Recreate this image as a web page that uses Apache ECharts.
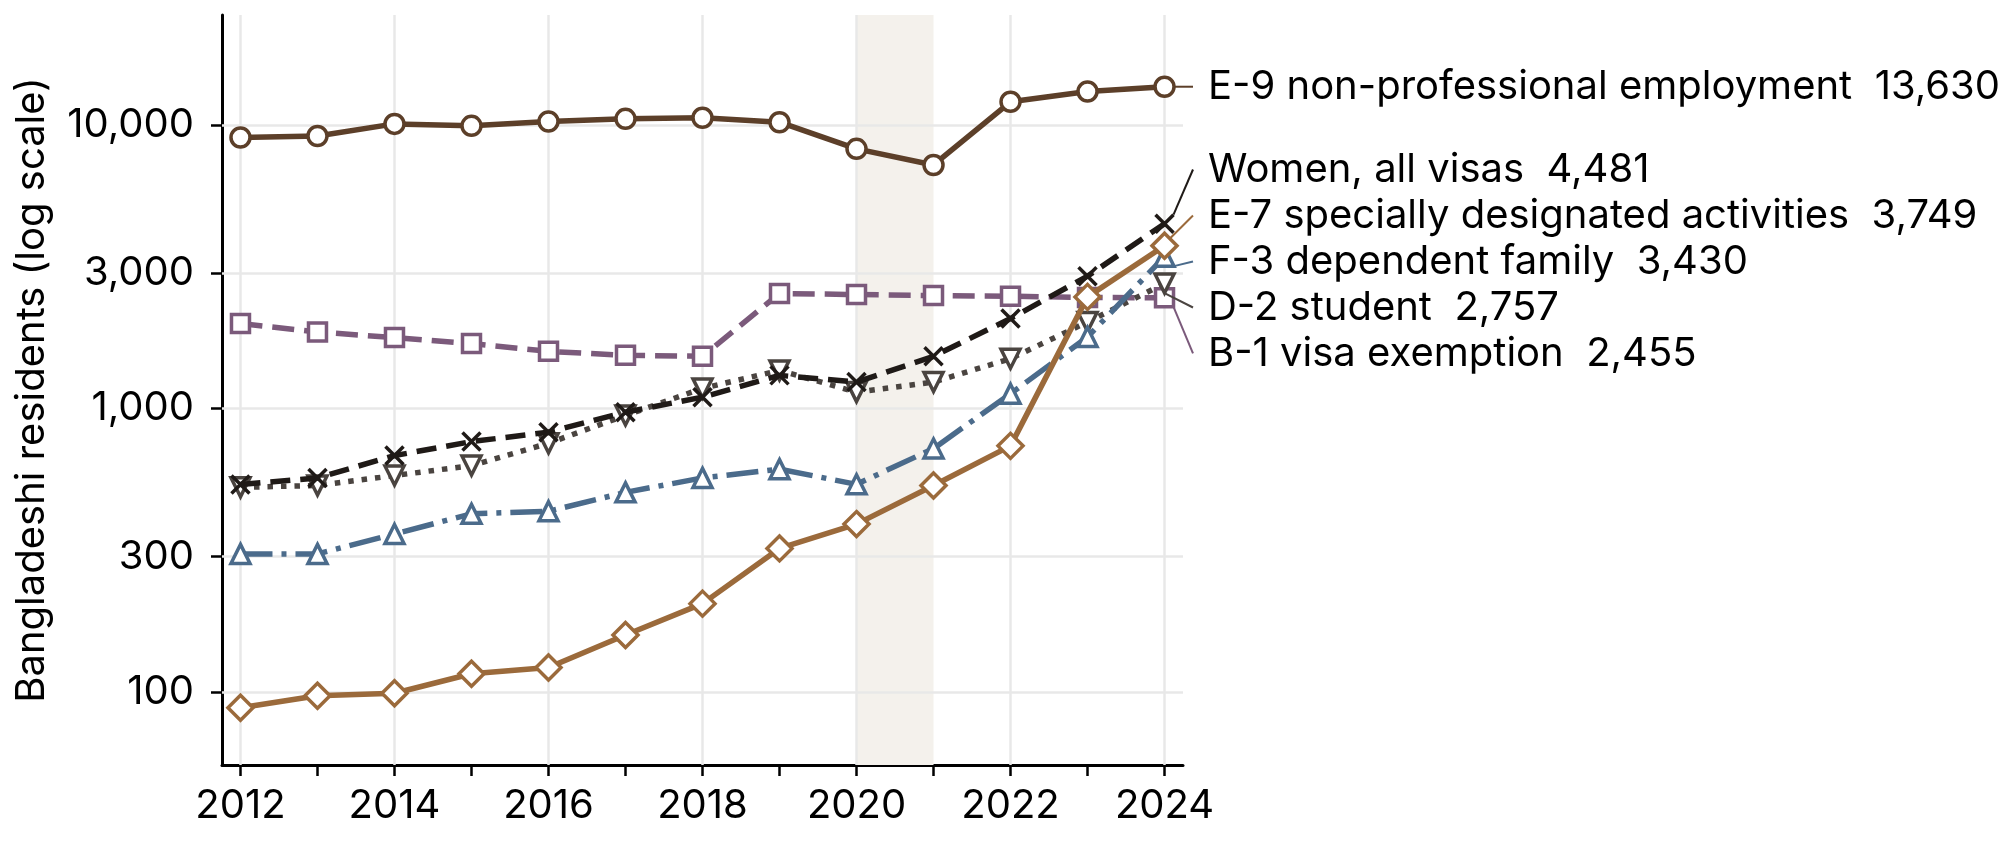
<!DOCTYPE html>
<html>
<head>
<meta charset="utf-8">
<script src="https://cdn.jsdelivr.net/npm/echarts@6/dist/echarts.min.js"></script>
<style>
  html, body { margin: 0; padding: 0; background: #fff; }
  #main { width: 2007px; height: 846px; }
</style>
</head>
<body>
<div id="main"></div>
<script>
// --- data ---
const years = [2012, 2013, 2014, 2015, 2016, 2017, 2018, 2019, 2020, 2021, 2022, 2023, 2024];
const e9Values = [9020, 9140, 10080, 9920, 10270, 10500, 10600, 10220, 8230, 7220, 12060, 13110, 13630];
const womenValues = [539, 569, 682, 764, 825, 970, 1096, 1308, 1239, 1527, 2075, 2927, 4481];
const e7Values = [88, 97, 99, 116, 122, 159, 205, 321, 391, 535, 738, 2474, 3749];
const f3Values = [307, 307, 361, 425, 434, 506, 569, 611, 540, 722, 1127, 1786, 3430];
const d2Values = [527, 535, 580, 629, 754, 945, 1177, 1362, 1142, 1239, 1498, 2018, 2757];
const b1Values = [1993, 1860, 1778, 1693, 1590, 1539, 1527, 2543, 2522, 2501, 2488, 2462, 2455];
const yTickValues = [100, 300, 1000, 3000, 10000];
const xLabelYears = [2012, 2014, 2016, 2018, 2020, 2022, 2024];
const shadedYears = [2020, 2021];

const FONT = 'Inter';
const FONT_SIZE = 40;
const GRID_COLOR = '#e8e8e8';
const LINE_W = 5.5;
const LABEL_X = 1193;
const LABEL_STEP = 46;
const X_SHAPE = 'path://M0,0L10,10M10,0L0,10';

const SERIES = [
  { name: 'E-9 non-professional employment', values: e9Values, color: '#5c3f29', dash: 'solid', symbol: 'circle', size: 19, alone: true },
  { name: 'Women, all visas', values: womenValues, color: '#1f1a17', dash: [20, 10], symbol: X_SHAPE, size: 18 },
  { name: 'E-7 specially designated activities', values: e7Values, color: '#9b6a3b', dash: 'solid', symbol: 'diamond', size: 25 },
  { name: 'F-3 dependent family', values: f3Values, color: '#4b6b8b', dash: [32, 9, 5, 9], symbol: 'triangle', size: 19 },
  { name: 'D-2 student', values: d2Values, color: '#4a4440', dash: [5.5, 8], symbol: 'triangle', rotate: 180, size: 19 },
  { name: 'B-1 visa exemption', values: b1Values, color: '#7b5a7b', dash: [22, 10], symbol: 'rect', size: 18 }
];

const fmt = v => v.toLocaleString('en-US');

const chart = echarts.init(document.getElementById('main'));

function buildSeries(labelY) {
  const helper = {
    type: 'line',
    data: [],
    silent: true,
    markArea: {
      silent: true,
      z: 1,
      itemStyle: { color: '#f4f1ec' },
      data: [[{ xAxis: shadedYears[0] }, { xAxis: shadedYears[1] }]]
    },
    markLine: {
      silent: true,
      z: 1.5,
      symbol: 'none',
      animation: false,
      label: { show: false },
      lineStyle: { color: GRID_COLOR, width: 2.5, type: 'solid' },
      data: xLabelYears.map(y => ({ xAxis: y })).concat(yTickValues.map(v => ({ yAxis: v })))
    }
  };
  const lines = SERIES.map((s, si) => {
    const last = s.values.length - 1;
    return {
      type: 'line',
      name: s.name,
      z: 3 + (SERIES.length - si) * 0.1,
      data: s.values.map((v, i) => {
        const item = { value: [years[i], v] };
        if (i === last) {
          item.label = { show: true, formatter: s.name + '  ' + fmt(v) };
        }
        return item;
      }),
      symbol: s.symbol,
      symbolSize: s.size,
      symbolRotate: s.rotate || 0,
      showAllSymbol: true,
      clip: false,
      lineStyle: { color: s.color, width: LINE_W, type: s.dash, cap: 'butt' },
      itemStyle: { color: '#fff', borderColor: s.color, borderWidth: 3.5 },
      label: {
        show: false,
        position: 'right',
        fontFamily: FONT,
        fontSize: FONT_SIZE,
        color: '#000',
        padding: [0, 0, 0, 15],
        backgroundColor: 'rgba(255,255,255,0)'
      },
      labelLine: { show: true, length2: 0, smooth: false, lineStyle: { color: s.color, width: 2 } },
      labelLayout: labelY ? { x: LABEL_X, y: labelY[si], align: 'left', verticalAlign: 'middle' } : null,
      emphasis: { disabled: true }
    };
  });
  return [helper].concat(lines);
}

const option = {
  animation: false,
  backgroundColor: '#fff',
  grid: { left: 222, right: 824, top: 15, bottom: 81 },
  xAxis: {
    type: 'value',
    min: 2011.76,
    max: 2024.24,
    axisLine: { onZero: false, lineStyle: { color: '#000', width: 3 } },
    axisTick: { show: true, length: 11, lineStyle: { color: '#000', width: 2.5 }, customValues: years },
    axisLabel: {
      customValues: xLabelYears,
      formatter: v => String(v),
      color: '#000', fontFamily: FONT, fontSize: FONT_SIZE, margin: 21
    },
    splitLine: { show: false }
  },
  yAxis: {
    type: 'log',
    logBase: 10,
    min: 55.3,
    max: 24400,
    name: 'Bangladeshi residents (log scale)',
    nameLocation: 'middle',
    nameGap: 170,
    nameTextStyle: { color: '#000', fontFamily: FONT, fontSize: FONT_SIZE },
    axisLine: { show: true, lineStyle: { color: '#000', width: 3 } },
    axisTick: { show: true, length: 11, lineStyle: { color: '#000', width: 2.5 }, customValues: yTickValues },
    axisLabel: {
      customValues: yTickValues,
      formatter: v => fmt(v),
      color: '#000', fontFamily: FONT, fontSize: FONT_SIZE, margin: 28
    },
    splitLine: { show: false },
    minorTick: { show: false }
  },
  series: buildSeries(null)
};

chart.setOption(option);

// spread the end labels: E-9 keeps its own height, the rest are stacked
// evenly around the mean of their end points
const endY = SERIES.map(s => chart.convertToPixel({ gridIndex: 0 }, [years[years.length - 1], s.values[s.values.length - 1]])[1]);
const labelY = endY.slice();
const group = SERIES.map((s, i) => i).filter(i => !SERIES[i].alone).sort((a, b) => endY[a] - endY[b]);
const mean = group.reduce((p, i) => p + endY[i], 0) / group.length;
group.forEach((idx, k) => {
  labelY[idx] = mean + (k - (group.length - 1) / 2) * LABEL_STEP;
});

chart.setOption({ series: buildSeries(labelY) });
</script>
</body>
</html>
